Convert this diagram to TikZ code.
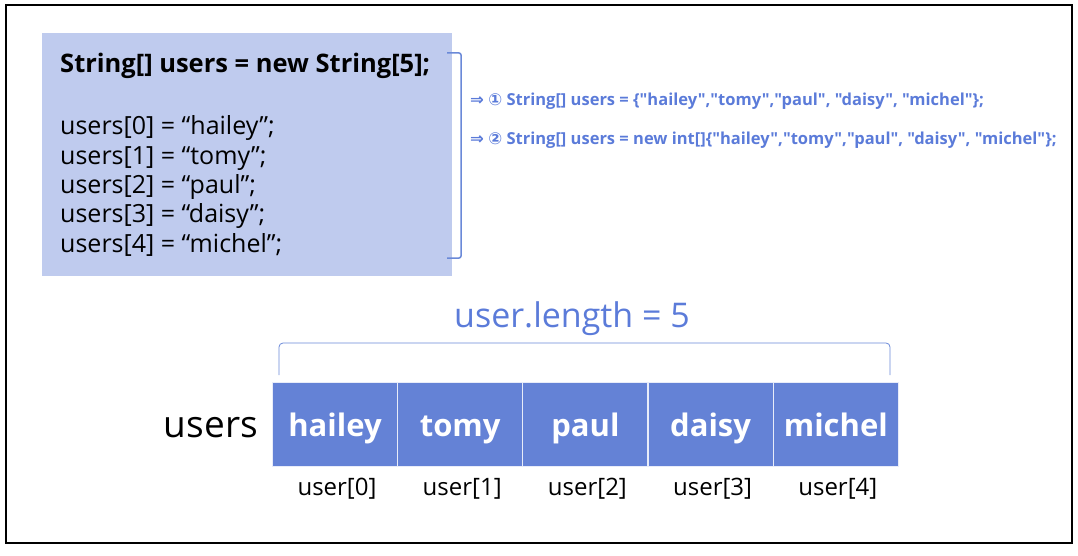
\documentclass[tikz,border=0pt]{standalone}
\usepackage{fontspec}
\usetikzlibrary{calc}
\setmainfont{Open Sans}
\newfontfamily\symfont{DejaVu Sans}
\newfontfamily\altfont{Open Sans}[Ligatures=TeXOff]
\definecolor{boxbg}{HTML}{BFCBEE}
\definecolor{cellbl}{HTML}{6482D6}
\definecolor{linebl}{HTML}{6A89D8}
\definecolor{txtbl}{HTML}{5B7BD9}
\tikzset{
  cell/.style={draw=white!85!cellbl, line width=1pt, fill=cellbl, minimum width=125pt, minimum height=84pt, inner sep=0pt, text=white, font=\fontsize{31}{34}\selectfont\bfseries, anchor=north west, text height=26pt, text depth=2pt},
  idx/.style={font=\fontsize{24}{26}\selectfont, text=black, anchor=center},
  code/.style={font=\fontsize{25}{29.3}\selectfont, anchor=north west, align=left, inner sep=0pt},
  alt/.style={font=\altfont\fontsize{16.5}{18}\selectfont\bfseries, text=txtbl, anchor=west, inner sep=0pt},
}
\begin{document}
\begin{tikzpicture}[x=1pt,y=-1pt]
\useasboundingbox (0,0) rectangle (1078,556);
\draw[line width=2pt] (6,5) rectangle (1072,543);
\node[fill=boxbg, minimum width=410pt, minimum height=243pt, anchor=north west, inner sep=0pt] (box) at (42,33) {};
\node[font=\fontsize{25.5}{28}\selectfont\bfseries, anchor=west, inner sep=0pt] (decl) at (60,66) {String[] users = new String[5];};
\node[code, anchor=west] (assign) at (60,186) {users[0] = “hailey”;\\users[1] = “tomy”;\\users[2] = “paul”;\\users[3] = “daisy”;\\users[4] = “michel”;};
\coordinate (b1) at (447,53);
\coordinate (b2) at (447,258);
\draw[linebl, line width=1.5pt, rounded corners=2pt] (b1) -- ++(14,0) |- (b2);
\node[alt] (alt1) at (470,101) {{\symfont ⇒} {\symfont ①} String[] users = \{"hailey","tomy","paul", "daisy", "michel"\};};
\node[alt] (alt2) at (470,140) {{\symfont ⇒} {\symfont ②} String[] users = new int[]\{"hailey","tomy","paul", "daisy", "michel"\};};
\node[font=\fontsize{37}{40}\selectfont, anchor=east, inner sep=0pt] (users) at (258,428) {users};
\foreach \n/\t [count=\i from 0] in {c0/hailey,c1/tomy,c2/paul,c3/daisy,c4/michel}{
  \node[cell] (\n) at (272+125.2*\i,382) {\t};
  \node[idx] (u\i) at ($(\n.south)+(2,22)$) {user[\i]};
}
\coordinate (t1) at (279,375);
\coordinate (t2) at (890,375);
\draw[linebl, line width=0.8pt, rounded corners=4pt] (t1) -- (279,343) -- (890,343) -- (t2);
\node[font=\fontsize{34}{36}\selectfont, text=txtbl, inner sep=0pt] (len) at (572,319) {user.length = 5};
\end{tikzpicture}
\end{document}
